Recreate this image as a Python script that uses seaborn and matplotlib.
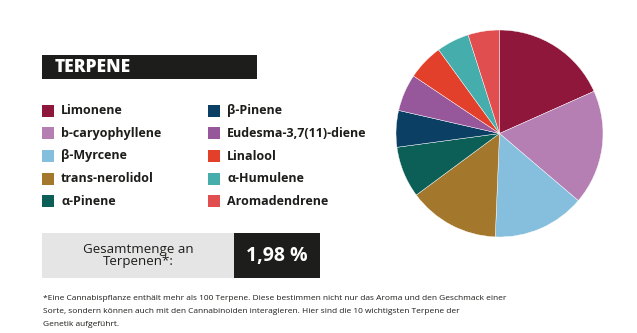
import matplotlib
matplotlib.use("Agg")
import matplotlib.pyplot as plt
from matplotlib.patches import Rectangle
import seaborn as sns

# ---- data ----
terpenes = ["Limonene", "b-caryophyllene", "β-Myrcene", "trans-nerolidol", "α-Pinene",
            "β-Pinene", "Eudesma-3,7(11)-diene", "Linalool", "α-Humulene", "Aromadendrene"]
shares = [18.3, 17.9, 14.4, 14.2, 8.0, 5.7, 5.8, 5.6, 5.1, 4.9]
colors = ["#8e173b", "#b57fb3", "#86bedd", "#a3782d", "#0c5f57",
          "#0b3f63", "#97589b", "#e3402b", "#46adad", "#e04e50"]
title = "TERPENE"
total_label = "Gesamtmenge an\nTerpenen*:"
total_value = "1,98 %"
footnote_lines = [
    "*Eine Cannabispflanze enthält mehr als 100 Terpene. Diese bestimmen nicht nur das Aroma und den Geschmack einer",
    "Sorte, sondern können auch mit den Cannabinoiden interagieren. Hier sind die 10 wichtigsten Terpene der",
    "Genetik aufgeführt.",
]

sns.set_theme(style="white")
palette = sns.color_palette(colors)
plt.rcParams['font.family'] = ['Open Sans', 'DejaVu Sans']

W, H = 637, 333
fig = plt.figure(figsize=(W / 100, H / 100), dpi=100)
fig.patch.set_facecolor("white")

def fx(x):
    return x / W

def fy(y):
    return 1 - y / H

def rect(x0, y0, x1, y1, color):
    fig.patches.append(Rectangle((fx(x0), fy(y1)), fx(x1) - fx(x0), fy(y0) - fy(y1),
                                 transform=fig.transFigure, facecolor=color,
                                 edgecolor="none", zorder=1))

# ---- pie ----
cx, cy, r = 499.5, 133.5, 103.5
ax = fig.add_axes([fx(cx - r), fy(cy + r), 2 * r / W, 2 * r / H])
ax.pie(shares, colors=palette, startangle=90, counterclock=False, radius=1,
       wedgeprops=dict(linewidth=0.3, edgecolor="white"))
ax.set_xlim(-1, 1)
ax.set_ylim(-1, 1)
ax.set_aspect("equal")
ax.axis("off")

# ---- title bar ----
rect(42, 55, 257, 79, "#1d1d1b")
fig.text(fx(55), fy(67), title, color="white", fontsize=12.5, fontweight="heavy",
         va="center", ha="left")

# ---- legend ----
for i, (name, c) in enumerate(zip(terpenes, palette)):
    col, row = divmod(i, 5)
    y = 111 + row * 22.5
    sx = 42 if col == 0 else 208
    tx = 61 if col == 0 else 227
    rect(sx, y - 6, sx + 12, y + 6, c)
    fig.text(fx(tx), fy(y), name, color="#1d1d1b", fontsize=9.0, fontweight="bold",
             va="center", ha="left")

# ---- total box ----
rect(42, 233, 234, 278, "#e5e5e5")
rect(234, 233, 320, 278, "#1d1d1b")
fig.text(fx(138), fy(255.5), total_label, color="#1d1d1b", fontsize=9.6,
         va="center", ha="center", linespacing=0.9)
fig.text(fx(277), fy(255.5), total_value, color="white", fontsize=14,
         fontweight="bold", va="center", ha="center")

# ---- footnote ----
for k, line in enumerate(footnote_lines):
    fig.text(fx(43), fy(300 + 13 * k), line, color="#1d1d1b", fontsize=6.05,
             va="baseline", ha="left")

fig.savefig("out.png", dpi=100)
